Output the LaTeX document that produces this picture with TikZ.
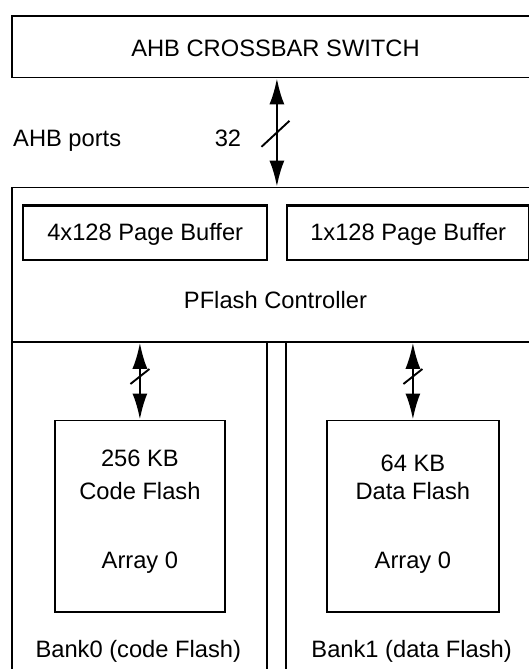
\documentclass[tikz,border=0pt]{standalone}
\usepackage{fontspec}
\setmainfont{Liberation Sans}
\usetikzlibrary{arrows.meta,calc}
\begin{document}
\begin{tikzpicture}[x=1pt,y=-1pt,
  box/.style={draw,line width=1.8pt,rectangle,inner sep=0pt,anchor=north west},
  bufbox/.style={draw,line width=2.4pt,rectangle,inner sep=0pt,anchor=north west},
  txt/.style={inner sep=0pt,anchor=base,font=\fontsize{23.7}{28}\selectfont},
  biarrow/.style={line width=2.2pt,{Latex[length=26pt,width=15pt]}-{Latex[length=26pt,width=15pt]}},
  slashline/.style={line width=1.9pt}]
\useasboundingbox[fill=white] (0,0) rectangle (529,669);
% AHB crossbar
\node[box,minimum width=530pt,minimum height=61.6pt] (xbar) at (11,15) {};
\node[txt] (xbart) at (275.5,56.7) {AHB CROSSBAR SWITCH};
% controller
\node[box,minimum width=530pt,minimum height=154.4pt] (ctrl) at (11,186.6) {};
\node[bufbox,minimum width=244pt,minimum height=54.3pt] (buf0) at (22,204.3) {};
\node[txt] (buf0t) at (buf0.center |- 0,240) {4x128 Page Buffer};
\node[bufbox,minimum width=242pt,minimum height=54.3pt] (buf1) at (286,204.3) {};
\node[txt] (buf1t) at (buf1.center |- 0,240) {1x128 Page Buffer};
\node[txt] (ctrlt) at (275.5,308) {PFlash Controller};
% banks
\node[box,minimum width=255pt,minimum height=340pt] (bank0) at (11,341) {};
\node[box,minimum width=260pt,minimum height=340pt] (bank1) at (285,341) {};
\node[box,minimum width=170pt,minimum height=191.3pt] (arr0) at (54,419.5) {};
\node[box,minimum width=172pt,minimum height=191.3pt] (arr1) at (326,419.5) {};
\node[txt] (a0l1) at (arr0.center |- 0,466) {256 KB};
\node[txt] (a0l2) at (arr0.center |- 0,499.7) {Code Flash};
\node[txt] (a0l3) at (arr0.center |- 0,568.3) {Array 0};
\node[txt] (a1l1) at (arr1.center |- 0,471.8) {64 KB};
\node[txt] (a1l2) at (arr1.center |- 0,499.8) {Data Flash};
\node[txt] (a1l3) at (arr1.center |- 0,568.3) {Array 0};
\node[txt] (b0t) at (138.3,657) {Bank0 (code Flash)};
\node[txt] (b1t) at (411.6,657) {Bank1 (data Flash)};
% port labels
\node[txt,anchor=base west] (ports) at (13,146.5) {AHB ports};
\node[txt] (w32) at (228,146.5) {32};
% arrows
\draw[biarrow] (xbar.south) -- (xbar.south |- ctrl.north);
\coordinate (m0) at (276,133.8);
\draw[slashline] ([shift={(-14.5,13)}]m0) -- ([shift={(13.5,-13)}]m0);
\draw[biarrow] (arr0.north |- ctrl.south) -- (arr0.north);
\coordinate (m1) at (arr0.north |- 0,376.5);
\draw[slashline] ([shift={(-9.5,7.5)}]m1) -- ([shift={(9.5,-7.5)}]m1);
\draw[biarrow] (arr1.north |- ctrl.south) -- (arr1.north);
\coordinate (m2) at (arr1.north |- 0,376.5);
\draw[slashline] ([shift={(-9.5,7.5)}]m2) -- ([shift={(9.5,-7.5)}]m2);
\end{tikzpicture}
\end{document}
